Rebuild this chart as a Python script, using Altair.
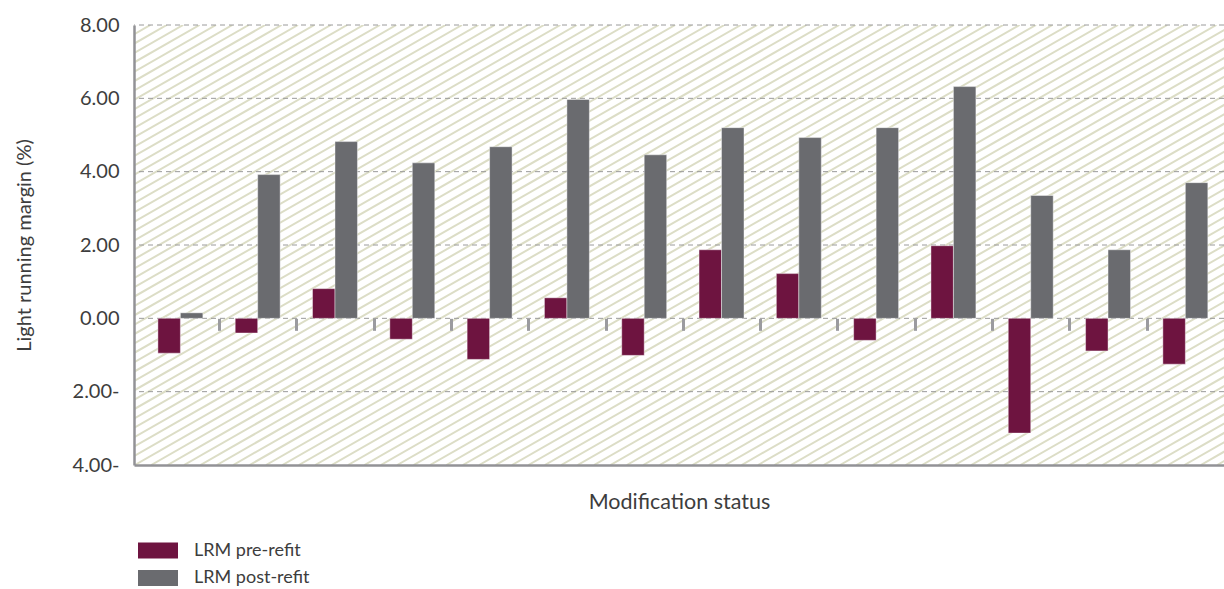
import altair as alt
import pandas as pd

# Light running margin per vessel group, before and after the refit (%)
groups = [str(i) for i in range(1, 15)]
series = ["LRM pre-refit", "LRM post-refit"]
pre_refit = [-0.95, -0.40, 0.81, -0.57, -1.12, 0.56, -1.01, 1.87, 1.22, -0.60, 1.98, -3.13, -0.89, -1.25]
post_refit = [0.15, 3.92, 4.82, 4.24, 4.68, 5.97, 4.46, 5.20, 4.93, 5.20, 6.32, 3.35, 1.87, 3.70]
y_ticks = [-4, -2, 0, 2, 4, 6, 8]
grid_lines = [-2, 0, 2, 4, 6, 8]
colors = ["#6e1440", "#6a6b6f"]

W, H = 1090, 440
FONT = "Lato"
WEIGHT = 400
TEXT = "#3d3d3d"
AXIS_GREY = "#929296"

bars_df = pd.DataFrame(
    [{"group": g, "series": series[0], "value": v} for g, v in zip(groups, pre_refit)]
    + [{"group": g, "series": series[1], "value": v} for g, v in zip(groups, post_refit)]
)
grid_df = pd.DataFrame({"value": grid_lines})

y_scale = alt.Scale(domain=[-4, 8], nice=False, zero=False)
y_axis = alt.Axis(
    values=y_ticks,
    labelExpr="datum.value < 0 ? format(-datum.value, '.2f') + '-' : format(datum.value, '.2f')",
    grid=False,
    ticks=False,
    domain=True,
    domainColor=AXIS_GREY,
    domainWidth=2.5,
    labelFont=FONT,
    labelFontSize=20,
    labelFontWeight=WEIGHT,
    labelColor=TEXT,
    labelPadding=15,
    title="Light running margin (%)",
    titleFont=FONT,
    titleFontSize=20,
    titleFontWeight=WEIGHT,
    titleColor=TEXT,
    titlePadding=38,
    zindex=1,
)

# diagonal hatching of the plot background
hatch = (
    alt.Chart(alt.sequence(0, 115, as_="k"))
    .transform_calculate(x0="datum.k * 16.4 - 770", x1="datum.k * 16.4", ya="0", yb=str(H))
    .mark_rule(color="#dcddc6", strokeWidth=2, clip=True)
    .encode(
        x=alt.X(
            "x0:Q",
            scale=alt.Scale(domain=[0, W], nice=False, zero=False),
            axis=alt.Axis(
                orient="bottom",
                domain=True,
                domainColor=AXIS_GREY,
                domainWidth=2.5,
                ticks=False,
                labels=False,
                grid=False,
                title="Modification status",
                titleFont=FONT,
                titleFontSize=21.5,
                titleFontWeight=WEIGHT,
                titleColor=TEXT,
                titlePadding=26,
                zindex=1,
            ),
        ),
        x2="x1:Q",
        y=alt.Y("ya:Q", scale=alt.Scale(domain=[0, H], nice=False, zero=False), axis=None),
        y2="yb:Q",
    )
)

grid = (
    alt.Chart(grid_df)
    .mark_rule(color="#9a9a9a", strokeWidth=1, strokeDash=[5, 4])
    .encode(y=alt.Y("value:Q", scale=y_scale, axis=y_axis))
)

bars = (
    alt.Chart(bars_df)
    .mark_bar(stroke="white", strokeWidth=0.7, strokeOpacity=0.6)
    .encode(
        x=alt.X(
            "group:N",
            sort=groups,
            scale=alt.Scale(paddingInner=0, paddingOuter=0.05, align=1),
            axis=alt.Axis(
                orient="bottom",
                offset=-H * 4 / 12,
                domain=False,
                labels=False,
                grid=False,
                title=None,
                ticks=True,
                tickBand="extent",
                values=groups[1:13],
                tickColor="#9b9b9f",
                tickWidth=3,
                tickSize=12,
                zindex=1,
            ),
        ),
        xOffset=alt.XOffset("series:N", sort=series, scale=alt.Scale(paddingInner=0, paddingOuter=0.72)),
        y=alt.Y("value:Q", scale=y_scale, axis=y_axis),
        color=alt.Color(
            "series:N",
            sort=series,
            scale=alt.Scale(domain=series, range=colors),
            legend=alt.Legend(
                orient="none",
                legendX=15,
                legendY=516.5,
                direction="vertical",
                title=None,
                symbolType="M-2.5,-1L2.5,-1L2.5,1L-2.5,1Z",
                symbolSize=256,
                symbolStrokeWidth=0,
                symbolOpacity=1,
                labelOffset=27,
                rowPadding=9.5,
                labelFont=FONT,
                labelFontSize=18,
                labelFontWeight=WEIGHT,
                labelColor=TEXT,
                padding=0,
            ),
        ),
    )
)

chart = (
    alt.layer(hatch, alt.layer(grid, bars))
    .resolve_scale(x="independent", y="independent")
    .properties(
        width=W,
        height=H,
        autosize=alt.AutoSizeParams(type="none"),
        padding={"left": 134, "top": 25, "right": 0, "bottom": 124},
        background="white",
    )
    .configure_view(stroke=None)
)

chart.save("out.html", embed_options={"renderer": "svg", "actions": False})
